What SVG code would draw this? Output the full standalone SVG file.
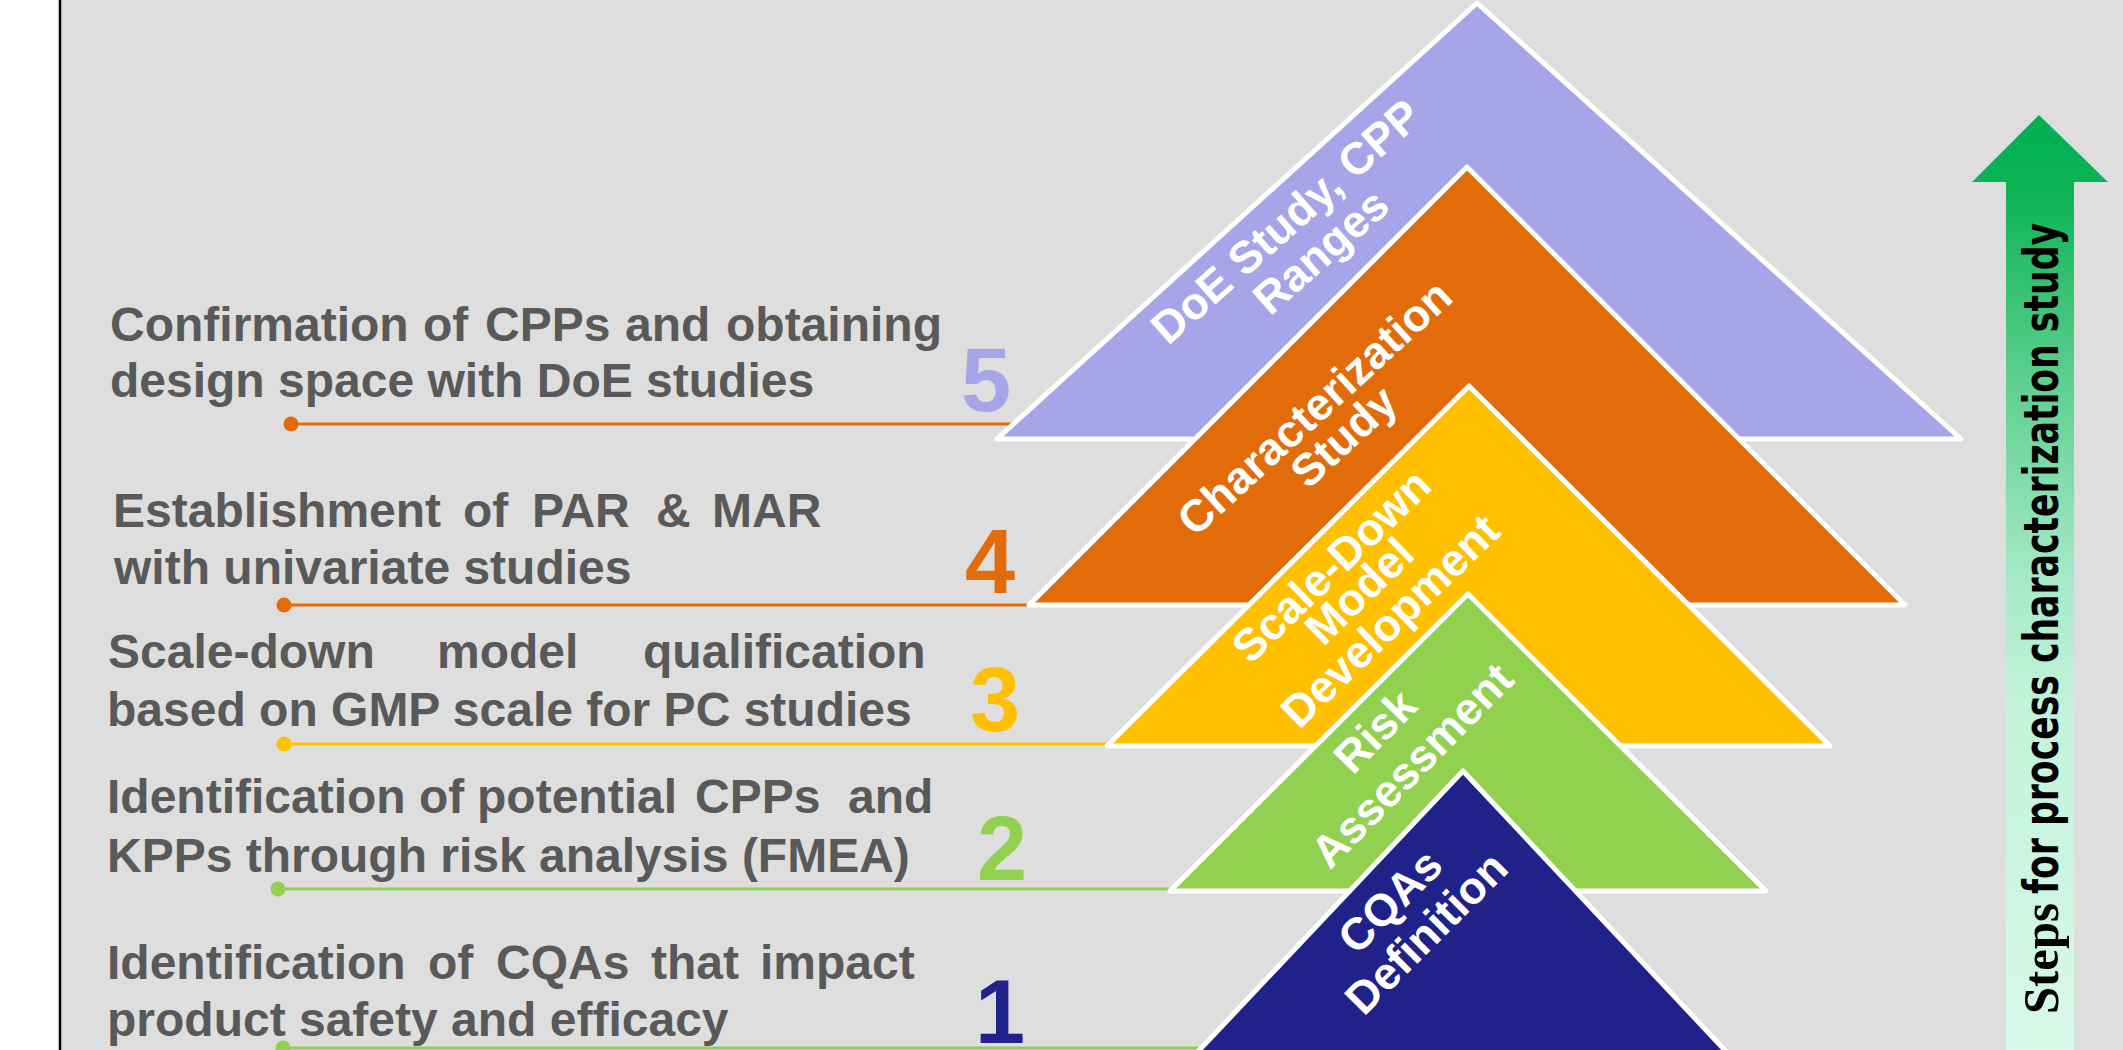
<svg xmlns="http://www.w3.org/2000/svg" width="2123" height="1050" viewBox="0 0 2123 1050">
  <defs>
    <style>
      .panel { fill: #dedede; }
      .step { font-family: "Liberation Sans", Arial, sans-serif; font-weight: bold; font-size: 48px; fill: #595959; }
      .num { font-family: "Liberation Sans", Arial, sans-serif; font-weight: bold; font-size: 90px; }
      .tri { stroke: #ffffff; stroke-width: 5; stroke-linejoin: round; }
      .lbl { font-family: "Liberation Sans", Arial, sans-serif; font-weight: bold; font-size: 45px; fill: #ffffff; text-anchor: middle; }
      .lead { stroke-width: 3; fill: none; }
      .axis-serif { font-family: "Liberation Serif", "Times New Roman", serif; font-weight: bold; font-size: 51px; fill: #000000; }
      .axis-sans { font-family: "Liberation Sans Narrow", "DejaVu Sans Condensed", "Liberation Sans", sans-serif; font-weight: bold; font-size: 48px; fill: #000000; }
    </style>
    <linearGradient id="arrowFill" gradientUnits="userSpaceOnUse" x1="0" y1="115" x2="0" y2="1050">
      <stop offset="0" stop-color="#00b050"/>
      <stop offset="0.08" stop-color="#0cb355"/>
      <stop offset="0.28" stop-color="#5ccf8e"/>
      <stop offset="0.5" stop-color="#a8e9c8"/>
      <stop offset="0.63" stop-color="#c2f3da"/>
      <stop offset="1" stop-color="#d8f8e9"/>
    </linearGradient>
  </defs>

  <!-- page background and left rule -->
  <rect x="0" y="0" width="2123" height="1050" fill="#ffffff"/>
  <rect class="panel" x="60" y="0" width="2063" height="1050"/>
  <line x1="60" y1="0" x2="60" y2="1050" stroke="#000000" stroke-width="2.5"/>

  <!-- leader lines from the step descriptions to the pyramid layers -->
  <g id="connectors">
    <line class="lead" x1="291" y1="424" x2="1015" y2="424" stroke="#e36c0a"/>
    <circle cx="291" cy="424" r="7.5" fill="#e36c0a"/>
    <line class="lead" x1="284" y1="605" x2="1035" y2="605" stroke="#e36c0a"/>
    <circle cx="284" cy="605" r="7.5" fill="#e36c0a"/>
    <line class="lead" x1="284" y1="744" x2="1112" y2="744" stroke="#ffc000"/>
    <circle cx="284" cy="744" r="7.5" fill="#ffc000"/>
    <line class="lead" x1="278" y1="889" x2="1175" y2="889" stroke="#92d050"/>
    <circle cx="278" cy="889" r="7.5" fill="#92d050"/>
    <line class="lead" x1="283" y1="1048" x2="1210" y2="1048" stroke="#92d050"/>
    <circle cx="283" cy="1048" r="7.5" fill="#92d050"/>
  </g>

  <!-- step descriptions -->
  <g id="desc5">
    <text class="step" y="341"><tspan x="110">Confirmation</tspan><tspan x="423">of</tspan><tspan x="485">CPPs</tspan><tspan x="625">and</tspan><tspan x="726">obtaining</tspan></text>
    <text class="step" x="110" y="397">design space with DoE studies</text>
  </g>
  <g id="desc4">
    <text class="step" y="527"><tspan x="113">Establishment</tspan><tspan x="463">of</tspan><tspan x="532">PAR</tspan><tspan x="656">&amp;</tspan><tspan x="712">MAR</tspan></text>
    <text class="step" x="114" y="584">with univariate studies</text>
  </g>
  <g id="desc3">
    <text class="step" y="668"><tspan x="108">Scale-down</tspan><tspan x="437">model</tspan><tspan x="643">qualification</tspan></text>
    <text class="step" x="107" y="726">based on GMP scale for PC studies</text>
  </g>
  <g id="desc2">
    <text class="step" y="813"><tspan x="107">Identification</tspan><tspan x="419">of</tspan><tspan x="477">potential</tspan><tspan x="695">CPPs</tspan><tspan x="848">and</tspan></text>
    <text class="step" x="107" y="872">KPPs through risk analysis (FMEA)</text>
  </g>
  <g id="desc1">
    <text class="step" y="979"><tspan x="107">Identification</tspan><tspan x="428">of</tspan><tspan x="496">CQAs</tspan><tspan x="651">that</tspan><tspan x="760">impact</tspan></text>
    <text class="step" x="107" y="1036">product safety and efficacy</text>
  </g>

  <!-- step numbers -->
  <g id="numbers">
    <text class="num" x="961" y="411" fill="#a5a5e8">5</text>
    <text class="num" x="965" y="593" fill="#e36c0a">4</text>
    <text class="num" x="970" y="731" fill="#ffc000">3</text>
    <text class="num" x="977" y="880" fill="#92d050">2</text>
    <text class="num" x="975" y="1043" fill="#21218a">1</text>
  </g>

  <!-- stacked pyramid layers, back to front -->
  <g id="layer5">
    <polygon class="tri" points="1477,3 1961,439 997,439" fill="#a5a5e8"/>
    <text class="lbl" transform="translate(1296,233) rotate(-41.5)">DoE Study, CPP</text>
    <text class="lbl" transform="translate(1331,263) rotate(-41.5)">Ranges</text>
  </g>
  <g id="layer4">
    <polygon class="tri" points="1467,167 1905,605 1029,605" fill="#e36c0a"/>
    <text class="lbl" transform="translate(1325,419) rotate(-42.5)">Characterization</text>
    <text class="lbl" transform="translate(1354,448) rotate(-42.5)">Study</text>
  </g>
  <g id="layer3">
    <polygon class="tri" points="1469,386 1830,746 1107,746" fill="#ffc000"/>
    <text class="lbl" transform="translate(1342,577) rotate(-44)">Scale-Down</text>
    <text class="lbl" transform="translate(1370,602) rotate(-44)">Model</text>
    <text class="lbl" transform="translate(1401,632) rotate(-44)">Development</text>
  </g>
  <g id="layer2">
    <polygon class="tri" points="1468,594 1766,891 1170,891" fill="#92d050"/>
    <text class="lbl" transform="translate(1386,742) rotate(-45.5)">Risk</text>
    <text class="lbl" transform="translate(1423,776) rotate(-45.5)">Assessment</text>
  </g>
  <g id="layer1">
    <polygon class="tri" points="1463,771 1734,1060 1190,1060" fill="#21218a"/>
    <text class="lbl" transform="translate(1401,912) rotate(-45)">CQAs</text>
    <text class="lbl" transform="translate(1437,944) rotate(-45)">Definition</text>
  </g>

  <!-- progress arrow -->
  <g id="progress-arrow">
    <polygon points="2039,115 2108,182 2074,182 2074,1050 2006,1050 2006,182 1972,182" fill="url(#arrowFill)"/>
    <text class="axis-serif" transform="translate(2058,1014) rotate(-90)" textLength="111" lengthAdjust="spacingAndGlyphs">Steps</text>
    <text class="axis-sans" transform="translate(2058,894) rotate(-90)" textLength="671" lengthAdjust="spacingAndGlyphs">for process characterization study</text>
  </g>
</svg>
